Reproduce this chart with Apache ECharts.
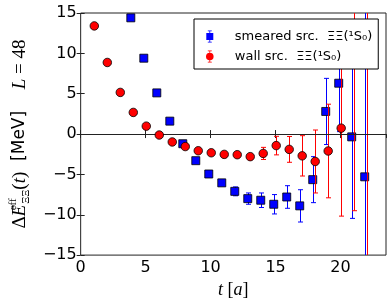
<!DOCTYPE html>
<html>
<head>
<meta charset="utf-8">
<script src="https://cdn.jsdelivr.net/npm/echarts@6/dist/echarts.min.js"></script>
<style>
html,body{margin:0;padding:0;background:#fff;}
#chart{width:391px;height:304px;}
</style>
</head>
<body>
<div id="chart"></div>
<script>
// ---- data ----
const tSmeared   = [4, 5, 6, 7, 8, 9, 10, 11, 12, 13, 14, 15, 16, 17, 18, 19, 20, 21, 22];
const smearedE   = [14.4, 9.4, 5.1, 1.6, -1.2, -3.3, -4.95, -6.05, -7.1, -8.0, -8.2, -8.7, -7.8, -8.9, -5.65, 2.8, 6.3, -0.35, -5.3];
const smearedErr = [0.1, 0.1, 0.1, 0.1, 0.15, 0.15, 0.2, 0.3, 0.55, 0.7, 0.9, 1.2, 1.4, 2.0, 2.85, 4.1, 6.0, 10.1, 25];
const smearedShift = -0.14;

const tWall   = [1, 2, 3, 4, 5, 6, 7, 8, 9, 10, 11, 12, 13, 14, 15, 16, 17, 18, 19, 20, 21, 22];
const wallE   = [13.4, 8.87, 5.16, 2.68, 0.98, -0.12, -0.98, -1.55, -2.07, -2.32, -2.52, -2.56, -2.8, -2.4, -1.43, -1.9, -2.7, -3.4, -2.1, 0.73, 10.0, 12.0];
const wallErr = [0.05, 0.05, 0.05, 0.05, 0.05, 0.05, 0.08, 0.1, 0.12, 0.15, 0.2, 0.25, 0.3, 0.75, 1.15, 1.6, 2.5, 3.9, 5.8, 10.9, 19.5, 30];
const wallShift = 0.05;

const xTicks = [0, 5, 10, 15, 20];
const yTicks = [-15, -10, -5, 0, 5, 10, 15];

const smearedName = 'smeared src.  ΞΞ(¹S₀)';
const wallName = 'wall src.  ΞΞ(¹S₀)';

// ---- build ----
const blue = '#0000ff', red = '#ff0000';
function fmt(v){ return String(v).replace('-', '\u2212'); }

function errRender(color){
  return function(params, api){
    const x = api.value(0), y = api.value(1), e = api.value(2);
    const top = api.coord([x, y + e]);
    const bot = api.coord([x, y - e]);
    const cx = Math.round(top[0]) + 0.5;
    const cap = 2.5;
    const st = {stroke: color, lineWidth: 1};
    return {type: 'group', children: [
      {type: 'line', shape: {x1: cx, y1: top[1], x2: cx, y2: bot[1]}, style: st},
      {type: 'line', shape: {x1: cx - cap, y1: top[1], x2: cx + cap, y2: top[1]}, style: st},
      {type: 'line', shape: {x1: cx - cap, y1: bot[1], x2: cx + cap, y2: bot[1]}, style: st}
    ]};
  };
}

const sData = tSmeared.map((t, i) => [t + smearedShift, smearedE[i], smearedErr[i]]);
const wData = tWall.map((t, i) => [t + wallShift, wallE[i], wallErr[i]]);

const iconSquare = 'path://M3.6,0H4.4V12H3.6Z M2,0H6V0.7H2Z M2,11.3H6V12H2Z M0.5,2.5H7.5V9.5H0.5Z';
const iconCircle = 'path://M3.6,0H4.4V12H3.6Z M2,0H6V0.7H2Z M2,11.3H6V12H2Z M4,2.2A3.8,3.8 0 1,1 3.99,2.2Z';

const axisCommonX = {
  type: 'value', min: 0, max: 23.5, interval: 5,
  axisLine: {show: false},
  splitLine: {show: false},
  axisTick: {inside: true, length: 4, lineStyle: {color: '#222', width: 1}}
};
const axisCommonY = {
  type: 'value', min: -15, max: 15, interval: 5,
  axisLine: {show: false},
  splitLine: {show: false},
  axisTick: {inside: true, length: 4, lineStyle: {color: '#222', width: 1}}
};

const chart = echarts.init(document.getElementById('chart'), null, {renderer: 'canvas'});
chart.setOption({
  animation: false,
  backgroundColor: '#fff',
  grid: {left: 68, top: 13, right: 5, bottom: 45, show: true, borderColor: '#222', borderWidth: 1, backgroundColor: 'transparent'},
  legend: {
    orient: 'vertical', left: 194, top: 19, z: 20,
    padding: [11, 6, 6, 12], itemGap: 7, itemWidth: 36, itemHeight: 12,
    borderColor: '#000', borderWidth: 1, borderRadius: 0, backgroundColor: '#fff',
    selectedMode: false,
    textStyle: {fontSize: 13, fontFamily: 'DejaVu Sans', color: '#000', padding: [0, 0, 0, 2]},
    data: [
      {name: smearedName, icon: iconSquare, itemStyle: {borderWidth: 0}},
      {name: wallName, icon: iconCircle, itemStyle: {borderWidth: 0}}
    ]
  },
  xAxis: [
    Object.assign({}, axisCommonX, {
      position: 'bottom',
      axisLabel: {fontSize: 16, fontFamily: 'DejaVu Sans', color: '#000', margin: 5, showMaxLabel: false,
        formatter: v => xTicks.indexOf(v) >= 0 ? fmt(v) : ''},
      name: '{it|t}{m| [}{it|a}{m|]}',
      nameLocation: 'middle', nameGap: 25,
      nameTextStyle: {rich: {
        it: {fontFamily: 'Liberation Serif', fontStyle: 'italic', fontSize: 18, color: '#000'},
        m: {fontFamily: 'Liberation Serif', fontSize: 18, color: '#000'}
      }}
    }),
    Object.assign({}, axisCommonX, {position: 'top', axisLabel: {show: false}})
  ],
  yAxis: [
    Object.assign({}, axisCommonY, {
      position: 'left',
      axisLabel: {fontSize: 16, fontFamily: 'DejaVu Sans', color: '#000', margin: 4,
        formatter: v => yTicks.indexOf(v) >= 0 ? fmt(v) : ''},
      name: '{m|Δ}{it|E}{sup|eff}{sub|ΞΞ}{m|(}{it|t}{m|)}{s|  [MeV]    }{it|L}{m| = 48}',
      nameLocation: 'middle', nameRotate: 90, nameGap: 46,
      nameTextStyle: {rich: {
        it: {fontFamily: 'Liberation Serif', fontStyle: 'italic', fontSize: 19, color: '#000', lineHeight: 24, verticalAlign: 'middle'},
        m: {fontFamily: 'Liberation Serif', fontSize: 19, color: '#000', lineHeight: 24, verticalAlign: 'middle'},
        sup: {fontFamily: 'Liberation Serif', fontSize: 11, color: '#000', lineHeight: 24, verticalAlign: 'top', width: 1},
        sub: {fontFamily: 'Liberation Serif', fontSize: 11, color: '#000', lineHeight: 24, verticalAlign: 'bottom'},
        s: {fontFamily: 'DejaVu Sans', fontSize: 17, color: '#000', lineHeight: 24, verticalAlign: 'middle'}
      }}
    }),
    Object.assign({}, axisCommonY, {position: 'right', axisLabel: {show: false}})
  ],
  series: [
    {
      type: 'line', name: 'zero', data: [], z: 1, silent: true,
      markLine: {silent: true, symbol: 'none', label: {show: false}, animation: false,
        lineStyle: {color: '#222', type: 'solid', width: 1}, data: [{yAxis: 0}]}
    },
    {type: 'custom', name: 'smeared err', renderItem: errRender(blue), data: sData, clip: true, z: 2,
      encode: {x: 0, y: 1}},
    {type: 'scatter', name: smearedName, data: sData.map(d => [d[0], d[1]]), symbol: 'rect', symbolSize: 8, z: 3,
      itemStyle: {color: blue, borderColor: '#000', borderWidth: 0.8, opacity: 1}},
    {type: 'custom', name: 'wall err', renderItem: errRender(red), data: wData, clip: true, z: 4,
      encode: {x: 0, y: 1}},
    {type: 'scatter', name: wallName, data: wData.map(d => [d[0], d[1]]), symbol: 'circle', symbolSize: 8.5, z: 5,
      itemStyle: {color: red, borderColor: '#000', borderWidth: 0.8, opacity: 1}}
  ]
});
</script>
</body>
</html>
